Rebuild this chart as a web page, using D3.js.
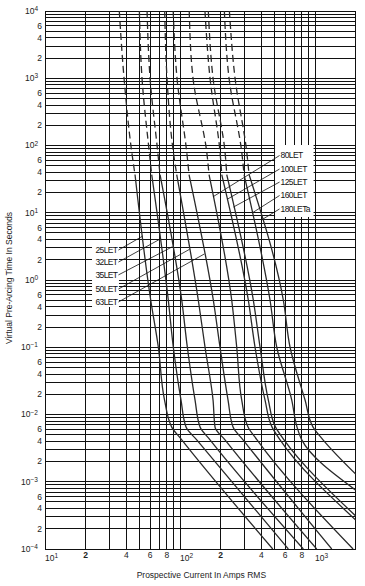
<!DOCTYPE html>
<html><head><meta charset="utf-8">
<script src="https://cdn.jsdelivr.net/npm/d3@7"></script>
<style>
body{margin:0;background:#fff;}
svg{display:block;font-family:"Liberation Sans",Arial,sans-serif;}
</style></head><body>
<svg id="c" width="365" height="586"></svg>
<script>
// ---- data ----
const fuseNames = ["25LET","32LET","35LET","50LET","63LET","80LET","100LET","125LET","160LET","180LETa"];
const curveTimes = [10000, 1000, 80, 37, 0.5, 0.1, 0.0164, 0.0065, 0.0042];
const current25  = [35.5, 38.5, 43.9, 46.4, 60.7, 69.1, 76.8, 86.8, 103];
const current32  = [50, 52.3, 59.2, 61.7, 81.9, 89.2, 101.7, 110.8, 133];
const current35  = [57, 60, 68.4, 71.1, 103, 113.3, 129.2, 140.7, 166.8];
const current50  = [77, 80.1, 89.2, 94.5, 136.6, 153.2, 175.6, 181.6, 215.4];
const current63  = [89, 95, 112.1, 116.6, 176.5, 197.8, 226.8, 247, 292.9];
const current80  = [117, 124.8, 157.7, 164, 241.5, 263, 286.4, 319, 371.8];
const current100 = [153, 166.8, 197.8, 203.7, 320.6, 359.4, 426.2, 480.4, 550.7];
const current125 = [162, 175.6, 215.4, 221.8, 349.1, 391.5, 451, 509.8, 589.5];
const current160 = [213, 230.7, 286.4, 298, 464.2, 520.4, 672.1, 735.6, 797];
const current180 = [232, 255.6, 312, 324.4, 582.4, 652.9, 843.4, 966.4, 1146];
const endCurrent = [486, 634, 819, 1029, 1330, 1912, 2000, 2000, 2000, 2000];
const endTime    = [1e-4, 1e-4, 1e-4, 1e-4, 1e-4, 1e-4, 2.7e-4, 3.1e-4, 7.5e-4, 1.3e-3];
const dashAbove = 37; // seconds: curves dashed above this time
const leftLabelTargets  = [4.5, 4.07, 3.13, 2.86, 2.44];
const rightLabelTargets = [17.3, 15.8, 12.2, 9.9, 7.8];
const xTickValues = [10, 20, 40, 60, 80, 100, 200, 400, 600, 800, 1000];
const yDecades = [-4, -3, -2, -1, 0, 1, 2, 3, 4];
const yMinorLabels = [2, 4, 6];
const xTitle = "Prospective Current In Amps RMS";
const yTitle = "Virtual Pre-Arcing Time In Seconds";

const allCurrents = [current25,current32,current35,current50,current63,current80,current100,current125,current160,current180];

// ---- layout ----
const svg = d3.select("#c");
const L = 45, R = 355.7, T = 11, B = 549;
const x = d3.scaleLog().domain([10, 2000]).range([L, R]);
const y = d3.scaleLog().domain([1e-4, 1e4]).range([B, T]);

svg.append("clipPath").attr("id","clip").append("rect")
  .attr("x", L).attr("y", T).attr("width", R - L).attr("height", B - T);

// grid
const g = svg.append("g").attr("stroke", "#111").attr("stroke-width", 1).attr("shape-rendering","crispEdges");
const xGrid = [];
for (let e = 1; e <= 3; e++) for (let m = 1; m <= 9; m++) { const v = m * Math.pow(10, e); if (v <= 2000) xGrid.push(v); }
xGrid.push(2000);
const yGrid = [];
for (let e = -4; e <= 3; e++) for (let m = 1; m <= 9; m++) yGrid.push(m * Math.pow(10, e));
yGrid.push(1e4);
g.selectAll(".vx").data(xGrid).join("line")
  .attr("x1", d => x(d)).attr("x2", d => x(d)).attr("y1", T).attr("y2", B);
g.selectAll(".hy").data(yGrid).join("line")
  .attr("x1", L).attr("x2", R).attr("y1", d => y(d)).attr("y2", d => y(d));

// label boxes (white, hide grid)
const leftBox = {i0: 22.3, i1: 35.3, t0: 3.55, t1: 0.397};
const rightBox = {i0: 505.6, i1: 974.8, t0: 101.7, t1: 8.65};
[leftBox, rightBox].forEach(b => {
  svg.append("rect").attr("x", x(b.i0)).attr("y", y(b.t0))
    .attr("width", x(b.i1) - x(b.i0)).attr("height", y(b.t1) - y(b.t0))
    .attr("fill", "#fff");
});

// curves
const curves = allCurrents.map((cur, k) => {
  const pts = cur.map((c, i) => [c, curveTimes[i]]);
  pts.push([endCurrent[k], endTime[k]]);
  return pts;
});
const line = d3.line().x(d => x(d[0])).y(d => y(d[1])).curve(d3.curveMonotoneY);
const cg = svg.append("g").attr("clip-path", "url(#clip)").attr("fill", "none")
  .attr("stroke", "#2a2a2a").attr("stroke-width", 1.3);
curves.forEach(pts => {
  const upper = pts.filter(p => p[1] >= dashAbove);
  const lower = pts.filter(p => p[1] <= dashAbove);
  cg.append("path").attr("d", line(upper)).attr("stroke-dasharray", "7,4");
  cg.append("path").attr("d", line(lower));
});

function currentAt(pts, t) {
  for (let i = 0; i < pts.length - 1; i++) {
    const a = pts[i], b = pts[i + 1];
    if (t <= a[1] && t >= b[1]) {
      const f = (Math.log(t) - Math.log(a[1])) / (Math.log(b[1]) - Math.log(a[1]));
      return Math.exp(Math.log(a[0]) + f * (Math.log(b[0]) - Math.log(a[0])));
    }
  }
  return pts[0][0];
}

// labels
const lab = svg.append("g").attr("font-size", 8.5).attr("letter-spacing", -0.6).attr("fill", "#111");
const leftTextX = 34.4, leftTextTimes = [2.79, 1.85, 1.19, 0.734, 0.471];
const rightTextX = 546, rightTextTimes = [71, 44.7, 28.6, 18.05, 11.4];
for (let k = 0; k < 5; k++) {
  const ty = y(leftTextTimes[k]);
  lab.append("text").attr("x", x(leftTextX)).attr("y", ty).attr("dy", "0.35em")
    .attr("text-anchor", "end").text(fuseNames[k]);
  const tx = x(currentAt(curves[k], leftLabelTargets[k]));
  svg.append("line").attr("x1", x(leftTextX) + 1).attr("y1", ty)
    .attr("x2", tx).attr("y2", y(leftLabelTargets[k])).attr("stroke", "#111").attr("stroke-width", 0.8);
}
for (let k = 0; k < 5; k++) {
  const ty = y(rightTextTimes[k]);
  lab.append("text").attr("x", x(rightTextX) + 1).attr("y", ty).attr("dy", "0.35em")
    .attr("text-anchor", "start").text(fuseNames[k + 5]);
  const tx = x(currentAt(curves[k + 5], rightLabelTargets[k]));
  svg.append("line").attr("x1", x(rightTextX)).attr("y1", ty)
    .attr("x2", tx).attr("y2", y(rightLabelTargets[k])).attr("stroke", "#111").attr("stroke-width", 0.8);
}

// y ticks
const ax = svg.append("g").attr("font-size", 8.5).attr("fill", "#222");
yDecades.forEach(e => {
  const t = ax.append("text").attr("x", 38).attr("y", y(Math.pow(10, e))).attr("dy", "0.35em").attr("text-anchor", "end");
  t.append("tspan").text("10");
  t.append("tspan").attr("dy", "-0.45em").attr("font-size", 6.5).text(e < 0 ? "\u2212" + (-e) : e);
  if (e < 4) yMinorLabels.forEach(m => {
    ax.append("text").attr("x", 42).attr("y", y(m * Math.pow(10, e))).attr("dy", "0.35em")
      .attr("text-anchor", "end").text(m);
  });
});
// x ticks
xTickValues.forEach(v => {
  const e = Math.log10(v);
  if (Math.abs(e - Math.round(e)) < 1e-9) {
    const t = ax.append("text").attr("x", x(v)).attr("y", 561).attr("text-anchor", "start");
    t.append("tspan").text("10");
    t.append("tspan").attr("dy", "-0.45em").attr("font-size", 6.5).text(Math.round(e));
  } else {
    const m = Math.round(v / Math.pow(10, Math.floor(e)));
    ax.append("text").attr("x", x(v)).attr("y", 558).attr("text-anchor", "middle")
      .attr("font-weight", m === 2 ? "bold" : "normal").text(m);
  }
});
// titles
ax.append("text").attr("x", (L + R) / 2 + 1).attr("y", 578).attr("text-anchor", "middle").text(xTitle);
ax.append("text").attr("transform", "translate(12,278) rotate(-90)").attr("text-anchor", "middle").text(yTitle);
</script>
</body></html>
